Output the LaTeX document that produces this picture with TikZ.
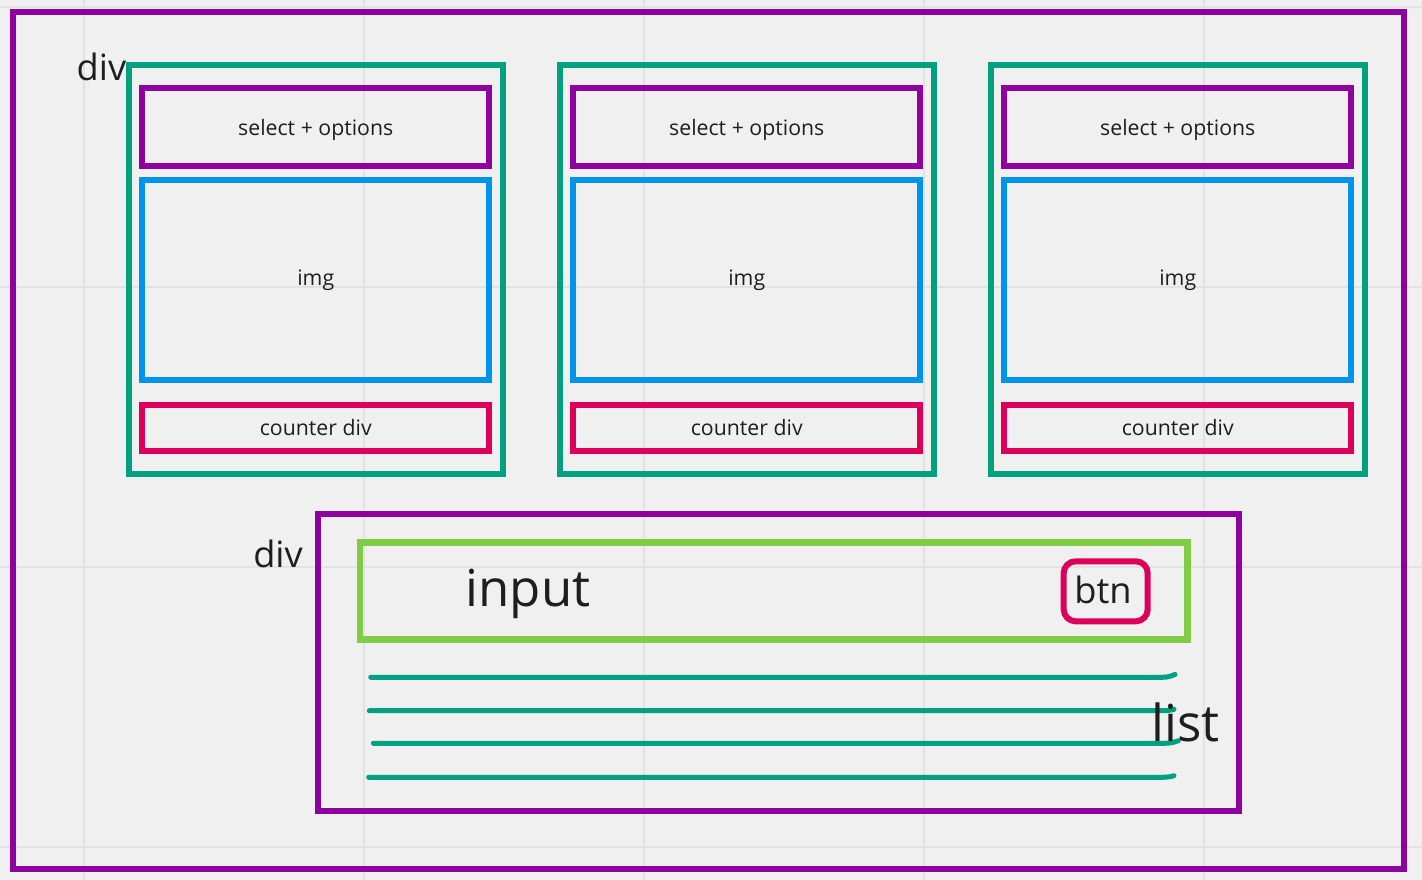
\documentclass[tikz,border=0pt]{standalone}
\usepackage{fontspec}
\setmainfont{Open Sans}
\usepackage{xcolor}
\definecolor{divpurple}{RGB}{142,3,160}
\definecolor{cardteal}{RGB}{0,161,126}
\definecolor{imgblue}{RGB}{0,148,236}
\definecolor{cntred}{RGB}{221,0,90}
\definecolor{inpgreen}{RGB}{128,204,68}
\definecolor{inktext}{RGB}{30,30,30}
\definecolor{boardbg}{RGB}{240,240,240}
\definecolor{boardgrid}{RGB}{226,226,226}
\newcommand{\smalltxt}{\fontsize{6.05}{7.3}\selectfont}
\newcommand{\midtxt}{\fontsize{10.3}{12.4}\selectfont}
\newcommand{\bigtxt}{\fontsize{14.5}{17.4}\selectfont}
\begin{document}
\begin{tikzpicture}[x=0.01cm,y=-0.01cm,text=inktext,
    frame/.style={draw,line width=0.06cm,inner sep=0pt,font=\smalltxt},
    cardbox/.style={frame,draw=cardteal,minimum width=3.735cm,minimum height=4.085cm},
    selbox/.style={frame,draw=divpurple,text depth=0pt,minimum width=3.465cm,minimum height=0.775cm},
    imgbox/.style={frame,draw=imgblue,minimum width=3.465cm,minimum height=1.99cm},
    cntbox/.style={frame,draw=cntred,minimum width=3.465cm,minimum height=0.454cm},
    listline/.style={draw=cardteal,line width=0.05cm,line cap=round}]
    \useasboundingbox (0,0) rectangle (1422,880);
    \fill [boardbg] (0,0) rectangle (1422,880);
    % background grid
    \foreach \gx in {84,364,644,924,1204}
        \draw [boardgrid,line width=0.02cm] (\gx,0) -- (\gx,880);
    \foreach \gy in {7,287,567,847}
        \draw [boardgrid,line width=0.02cm] (0,\gy) -- (1422,\gy);
    % outer div
    \node [frame,draw=divpurple,minimum width=13.91cm,minimum height=8.57cm] (outer) at (708.5,440.5) {};
    \node [font=\midtxt,anchor=base] (divtop) at (101.5,81) {div};
    % card 1
    \node [cardbox] (card1) at (316.25,269.75) {};
    \node [selbox] (sel1) at (315.75,127.25) {select + options};
    \node [imgbox] (img1) at (315.75,280) {img};
    \node [cntbox] (cnt1) at (315.75,428) {counter div};
    % card 2
    \node [cardbox] (card2) at (747.25,269.75) {};
    \node [selbox] (sel2) at (746.75,127.25) {select + options};
    \node [imgbox] (img2) at (746.75,280) {img};
    \node [cntbox] (cnt2) at (746.75,428) {counter div};
    % card 3
    \node [cardbox] (card3) at (1178.25,269.75) {};
    \node [selbox] (sel3) at (1177.75,127.25) {select + options};
    \node [imgbox] (img3) at (1177.75,280) {img};
    \node [cntbox] (cnt3) at (1177.75,428) {counter div};
    % lower div
    \node [frame,draw=divpurple,minimum width=9.198cm,minimum height=2.967cm] (lower) at (778.4,662.35) {};
    \node [font=\midtxt,anchor=base] (divlow) at (278,568) {div};
    \node [frame,draw=inpgreen,line width=0.065cm,minimum width=8.273cm,minimum height=0.966cm] (inputbar) at (773.65,591) {};
    \node [font=\bigtxt,anchor=base] (inputtxt) at (528,606.7) {input};
    \node [frame,draw=cntred,rounded corners=0.12cm,minimum width=0.84cm,minimum height=0.6cm] (btn) at (1105.7,591.3) {};
    \node [font=\midtxt,anchor=base] (btntxt) at (1103,604) {btn};
    % list
    \draw [listline] (370.7,677.3) -- (1162,677.3) .. controls (1169,677.3) and (1172,675.5) .. (1175,674.5);
    \draw [listline] (369.3,710.7) -- (1162,710.7) .. controls (1169,710.7) and (1172,709.8) .. (1174,709.3);
    \draw [listline] (373.3,743.3) -- (1165,743.3) .. controls (1172,743.3) and (1176,741.5) .. (1178.3,740.7);
    \draw [listline] (368.7,777.3) -- (1162,777.3) .. controls (1169,777.3) and (1172,776.2) .. (1174,775.7);
    \node [font=\bigtxt,anchor=base] (listtxt) at (1185.5,741.7) {list};
\end{tikzpicture}
\end{document}
